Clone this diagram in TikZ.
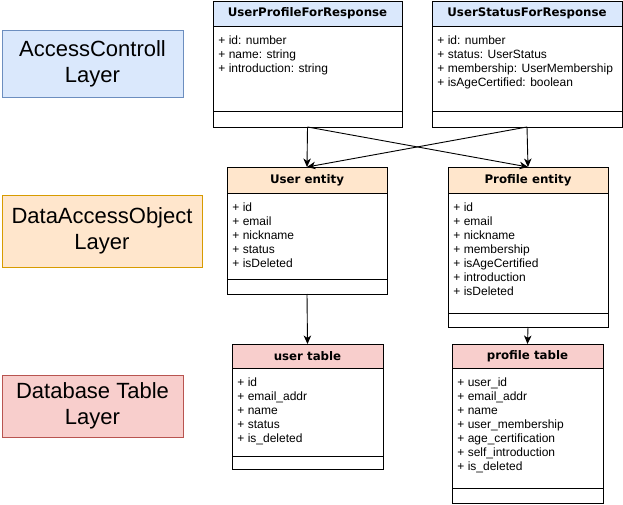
\documentclass[tikz,border=0pt]{standalone}
\usepackage{fontspec}
\setmainfont{Liberation Sans}
\newfontfamily\headfont{DejaVu Sans}
\usetikzlibrary{positioning,arrows.meta}

\definecolor{acfill}{HTML}{DAE8FC}
\definecolor{acline}{HTML}{6C8EBF}
\definecolor{daofill}{HTML}{FFE6CC}
\definecolor{daoline}{HTML}{D79B00}
\definecolor{dbfill}{HTML}{F8CECC}
\definecolor{dbline}{HTML}{B85450}

\begin{document}
\begin{tikzpicture}[x=1pt,y=-1pt,>={Stealth[length=8.5pt,width=7.5pt,inset=2.5pt]},line width=0.9pt,node distance=0pt]
    \tikzstyle{layer}=[draw,anchor=north west,align=center,inner sep=0pt,outer sep=0pt,font=\fontsize{22}{26}\selectfont]
    \tikzstyle{head}=[draw,anchor=north,inner sep=0pt,outer sep=0pt,minimum height=25,font=\headfont\bfseries\fontsize{11.8}{13}\selectfont]
    \tikzstyle{part}=[draw,fill=white,inner sep=0pt,outer sep=0pt]
    \tikzstyle{attrs}=[anchor=north west,align=left,inner sep=0pt,font=\fontsize{12}{14}\selectfont]

    \useasboundingbox (0,0) rectangle (623,505);

    % layers
    \node[layer,fill=acfill,draw=acline,minimum width=181,minimum height=67] (acl) at (2,30) {AccessControll\\Layer};
    \node[layer,fill=daofill,draw=daoline,minimum width=200,minimum height=72] (dao) at (2,195) {DataAccessObject\\Layer};
    \node[layer,fill=dbfill,draw=dbline,minimum width=181,minimum height=62] (dbl) at (2,375) {Database Table\\Layer};

    % access controll classes
    \node[head,fill=acfill,minimum width=189] (upr) at (307.5,1) {UserProfileForResponse};
    \node[part,minimum width=189,minimum height=85,below=of upr] (upr-body) {};
    \node[part,minimum width=189,minimum height=16,below=of upr-body] (upr-foot) {};
    \node[attrs] (upr-list) at ([shift={(5pt,-9.5pt)}]upr-body.north west) {+ id: number\\+ name: string\\+ introduction: string};

    \node[head,fill=acfill,minimum width=190] (usr) at (527,1) {UserStatusForResponse};
    \node[part,minimum width=190,minimum height=85,below=of usr] (usr-body) {};
    \node[part,minimum width=190,minimum height=16,below=of usr-body] (usr-foot) {};
    \node[attrs] (usr-list) at ([shift={(5pt,-9.5pt)}]usr-body.north west) {+ id: number\\+ status: UserStatus\\+ membership: UserMembership\\+ isAgeCertified: boolean};

    % dao classes
    \node[head,fill=daofill,minimum width=160,minimum height=26] (ue) at (307,167) {User entity};
    \node[part,minimum width=160,minimum height=86,below=of ue] (ue-body) {};
    \node[part,minimum width=160,minimum height=15,below=of ue-body] (ue-foot) {};
    \node[attrs] (ue-list) at ([shift={(5pt,-9.5pt)}]ue-body.north west) {+ id\\+ email\\+ nickname\\+ status\\+ isDeleted};

    \node[head,fill=daofill,minimum width=160,minimum height=26] (pe) at (528,167) {Profile entity};
    \node[part,minimum width=160,minimum height=120,below=of pe] (pe-body) {};
    \node[part,minimum width=160,minimum height=14,below=of pe-body] (pe-foot) {};
    \node[attrs] (pe-list) at ([shift={(5pt,-9.5pt)}]pe-body.north west) {+ id\\+ email\\+ nickname\\+ membership\\+ isAgeCertified\\+ introduction\\+ isDeleted};

    % tables
    \node[head,fill=dbfill,minimum width=151,minimum height=24] (ut) at (307.5,344) {user table};
    \node[part,minimum width=151,minimum height=88,below=of ut] (ut-body) {};
    \node[part,minimum width=151,minimum height=13,below=of ut-body] (ut-foot) {};
    \node[attrs] (ut-list) at ([shift={(5pt,-9.5pt)}]ut-body.north west) {+ id\\+ email\_addr\\+ name\\+ status\\+ is\_deleted};

    \node[head,fill=dbfill,minimum width=151,minimum height=24] (pt) at (527.5,344) {profile table};
    \node[part,minimum width=151,minimum height=120,below=of pt] (pt-body) {};
    \node[part,minimum width=151,minimum height=15,below=of pt-body] (pt-foot) {};
    \node[attrs] (pt-list) at ([shift={(5pt,-9.5pt)}]pt-body.north west) {+ user\_id\\+ email\_addr\\+ name\\+ user\_membership\\+ age\_certification\\+ self\_introduction\\+ is\_deleted};

    % connectors
    \draw[->] (upr-foot.south) -- (ue.north);
    \draw[->] (upr-foot.south) -- (pe.north);
    \draw[->] (usr-foot.south) -- (pe.north);
    \draw[->] (usr-foot.south) -- (ue.north);
    \draw[->] (ue-foot.south) -- (ut.north);
    \draw[->] (pe-foot.south) -- (pt.north);
\end{tikzpicture}
\end{document}
